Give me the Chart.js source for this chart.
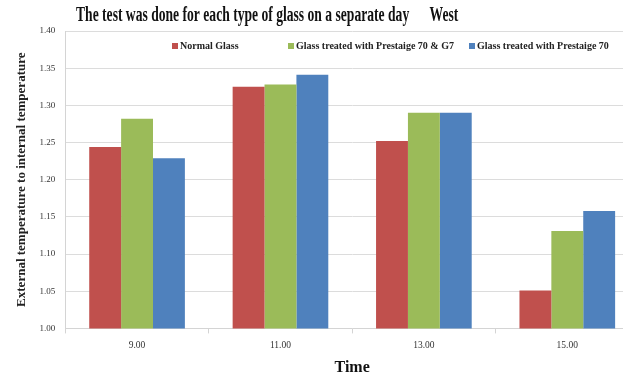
<!DOCTYPE html>
<html>
<head>
<meta charset="utf-8">
<script src="https://cdn.jsdelivr.net/npm/chart.js@4.4.1/dist/chart.umd.min.js"></script>
<style>
  html, body { margin: 0; padding: 0; background: #fff; overflow: hidden; }
  #wrap { width: 645px; height: 381px; }
</style>
</head>
<body>
<div id="wrap"><canvas id="chart" width="645" height="381"></canvas></div>
<script>
const times = ['9.00', '11.00', '13.00', '15.00'];
const normalGlass = [1.244, 1.325, 1.252, 1.051];
const treatedG7 = [1.282, 1.328, 1.290, 1.131];
const treated70 = [1.229, 1.341, 1.290, 1.158];
const yTicks = [1.00, 1.05, 1.10, 1.15, 1.20, 1.25, 1.30, 1.35, 1.40];
const legendX = [172, 288, 469];

const SERIF = '"Liberation Serif", "Times New Roman", serif';

// heading in a tall, narrow bold serif
const headline = {
    id: 'headline',
    afterDraw(chart) {
        const ctx = chart.ctx;
        ctx.save();
        ctx.font = 'bold 20px ' + SERIF;
        ctx.fillStyle = '#111';
        ctx.textBaseline = 'middle';
        ctx.translate(76, 16);
        ctx.scale(0.68, 1);
        ctx.fillText('The test was done for each type of glass on a separate day', 0, 0);
        ctx.fillText('West', 520, 0);
        ctx.restore();
    }
};

// legend row sits inside the plot, just under the top gridline
const insideLegend = {
    id: 'insideLegend',
    afterDatasetsDraw(chart) {
        const ctx = chart.ctx;
        ctx.save();
        ctx.font = 'bold 10px ' + SERIF;
        ctx.textBaseline = 'middle';
        chart.data.datasets.forEach((ds, i) => {
            const x = legendX[i];
            ctx.fillStyle = ds.backgroundColor;
            ctx.fillRect(x, 43, 6, 6);
            ctx.fillStyle = '#222';
            ctx.fillText(ds.label, x + 8, 46);
        });
        ctx.restore();
    }
};

new Chart(document.getElementById('chart'), {
    type: 'bar',
    data: {
        labels: times,
        datasets: [
            { label: 'Normal Glass', data: normalGlass, backgroundColor: '#c0504d' },
            { label: 'Glass treated with Prestaige 70 & G7', data: treatedG7, backgroundColor: '#9bbb59' },
            { label: 'Glass treated with Prestaige 70', data: treated70, backgroundColor: '#4f81bd' }
        ]
    },
    options: {
        responsive: false,
        animation: false,
        layout: { padding: { top: 31, left: 10, right: 6, bottom: 0 } },
        datasets: { bar: { categoryPercentage: 0.667, barPercentage: 1.0 } },
        plugins: {
            legend: { display: false },
            tooltip: { enabled: false }
        },
        scales: {
            x: {
                grid: { display: true, drawOnChartArea: false, offset: true, tickLength: 5, color: '#d4d4d4' },
                border: { color: '#d4d4d4' },
                ticks: { padding: 6, font: { family: SERIF, size: 9.5 }, color: '#333' },
                title: {
                    display: true, text: 'Time',
                    font: { family: SERIF, size: 16, weight: 'bold' }, color: '#111',
                    padding: { top: 1, bottom: 4 }
                }
            },
            y: {
                min: 1.0, max: 1.4,
                afterBuildTicks(scale) { scale.ticks = yTicks.map(v => ({ value: v })); },
                grid: { color: '#dcdcdc', drawTicks: false },
                border: { color: '#d4d4d4' },
                ticks: { padding: 10, font: { family: SERIF, size: 9 }, color: '#333', callback: v => v.toFixed(2) },
                title: {
                    display: true, text: 'External temperature to internal temperature',
                    font: { family: SERIF, size: 13, weight: 'bold' }, color: '#222',
                    padding: { top: 4, bottom: 0 }
                }
            }
        }
    },
    plugins: [headline, insideLegend]
});
</script>
</body>
</html>
